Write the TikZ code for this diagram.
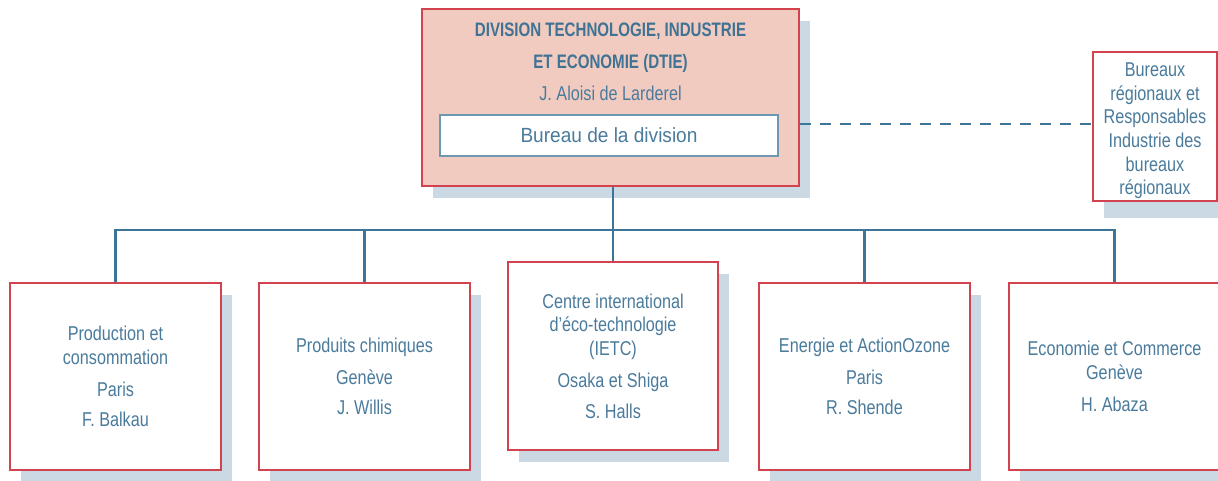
\documentclass[tikz,border=0pt]{standalone}
\usepackage{fontspec}
\setmainfont{Liberation Sans}[FakeStretch=0.81]
\newfontfamily\titlefont{Liberation Sans}[FakeStretch=0.775]
\newfontfamily\widefont{Liberation Sans}[FakeStretch=0.93]
\usetikzlibrary{shadows}
\definecolor{txt}{HTML}{4A7B9C}
\definecolor{ttl}{HTML}{3F7395}
\definecolor{conn}{HTML}{3D7599}
\definecolor{bord}{HTML}{D2434F}
\definecolor{pinkf}{HTML}{F1CBC0}
\definecolor{shad}{HTML}{CBD9E4}
\definecolor{innerc}{HTML}{6E97B2}
\begin{document}
\begin{tikzpicture}[x=1pt,y=-1pt,
  shadowed/.style={drop shadow={fill=shad, opacity=1, shadow xshift=11pt, shadow yshift=-12pt}},
  unitbox/.style={shadowed, draw=bord, line width=1.4pt, fill=white, inner sep=0pt,
    text=txt, align=center, font=\fontsize{20}{23.7}\selectfont,
    minimum width=211pt, minimum height=187pt},
  topbox/.style={shadowed, draw=bord, line width=1.4pt, fill=pinkf, inner sep=0pt,
    minimum width=377pt, minimum height=177pt},
  innerbox/.style={draw=innerc, line width=1.2pt, fill=white, inner sep=0pt,
    text=txt, font=\widefont\fontsize{20.5}{24}\selectfont,
    minimum width=338pt, minimum height=41pt},
  titletext/.style={text=ttl, inner sep=0pt, anchor=base, font=\titlefont\bfseries\fontsize{19.5}{24}\selectfont},
  plaintext/.style={text=txt, inner sep=0pt, anchor=base, align=center, font=\fontsize{20}{23.7}\selectfont},
  connline/.style={draw=conn, line width=2.6pt},
  dashline/.style={draw=conn, line width=2.6pt, dash pattern=on 11pt off 9pt}
]
\useasboundingbox (0,0) rectangle (1218,480);

% top division box
\node[topbox] (div) at (610.5,97.5) {};
\node[titletext] (t1) at (610.5,36) {DIVISION TECHNOLOGIE, INDUSTRIE};
\node[titletext] (t2) at (610.5,68) {ET ECONOMIE (DTIE)};
\node[plaintext] (dir) at (610.5,100) {J. Aloisi de Larderel};
\node[innerbox] (bur) at (609,135.5) {Bureau de la division};

% regional box
\node[unitbox, minimum width=124pt, minimum height=149pt,
  drop shadow={fill=shad, opacity=1, shadow xshift=11pt, shadow yshift=-17pt}] (reg) at (1155,126.5) {};
\node[plaintext, anchor=north] (regt) at (1155,62.5) {Bureaux\\régionaux et\\Responsables\\Industrie des\\bureaux\\régionaux};

% bottom boxes
\node[unitbox] (prod) at (115.5,376.5) {Production et\\consommation\\[8pt]Paris\\[7pt]F. Balkau};
\node[unitbox] (chem) at (364.5,376.5) {Produits chimiques\\[8pt]Genève\\[7pt]J. Willis};
\node[unitbox, minimum width=210pt, minimum height=188pt] (ietc) at (613,356) {Centre international\\d’éco-technologie\\(IETC)\\[8pt]Osaka et Shiga\\[7pt]S. Halls};
\node[unitbox] (ener) at (864.5,376.5) {Energie et ActionOzone\\[8pt]Paris\\[7pt]R. Shende};
\node[unitbox] (eco) at (1114.5,376.5) {Economie et Commerce\\Genève\\[8pt]H. Abaza};

% connectors
\coordinate (bus) at (613,230);
\draw[connline] (div.south -| ietc.north) -- (ietc.north);
\draw[connline] (prod.north) |- (eco.north |- bus) -- (eco.north);
\draw[connline] (chem.north) -- (chem.north |- bus);
\draw[connline] (ener.north) -- (ener.north |- bus);
\draw[dashline] (div.east |- 0,124) -- (reg.west |- 0,124);
\end{tikzpicture}
\end{document}
